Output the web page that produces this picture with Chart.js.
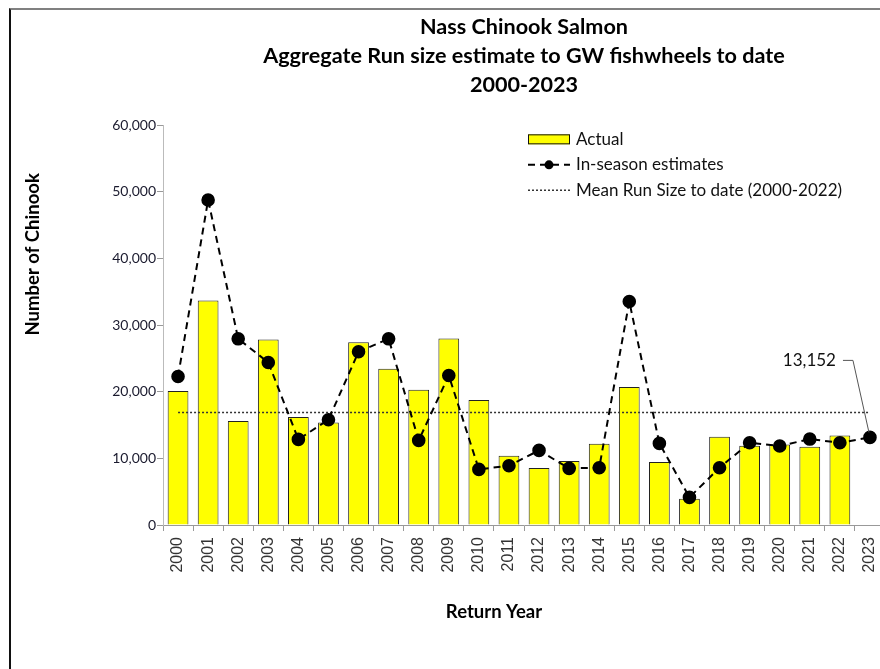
<!DOCTYPE html>
<html>
<head>
<meta charset="utf-8">
<script src="https://cdn.jsdelivr.net/npm/chart.js@4/dist/chart.umd.min.js"></script>
<style>
  html, body { margin: 0; padding: 0; background: #fff; overflow: hidden; }
  #frame {
    position: absolute; left: 9px; top: 8px; width: 900px; height: 680px;
    border-left: 2px solid #111; border-top: 2px solid #808080;
  }
  #wrap { position: absolute; left: 0; top: 1px; width: 890px; height: 660px; }
</style>
</head>
<body>
<div id="frame"><div id="wrap"><canvas id="runChart"></canvas></div></div>
<script>
const years = ['2000','2001','2002','2003','2004','2005','2006','2007','2008','2009','2010','2011',
               '2012','2013','2014','2015','2016','2017','2018','2019','2020','2021','2022','2023'];
const actual = [20100, 33700, 15600, 27850, 16200, 15400, 27450, 23450, 20300, 28000, 18750, 10400,
                8550, 9600, 12200, 20700, 9450, 3950, 13250, 11900, 12100, 11750, 13450, null];
const inSeason = [22300, 48800, 27950, 24400, 12850, 15800, 26000, 27950, 12700, 22450, 8350, 8900,
                  11200, 8500, 8600, 33550, 12250, 4150, 8600, 12350, 11850, 12900, 12350, 13152];
const meanRun = Array(years.length).fill(16900);
const yTicks = [0, 10000, 20000, 30000, 40000, 50000, 60000];

const mainFont = "Lato, 'Liberation Sans', sans-serif";

// legend drawn inside the plot area
const innerLegend = {
  id: 'innerLegend',
  afterDraw(chart) {
    const ctx = chart.ctx;
    const a = chart.chartArea;
    const x = a.left + 365, y0 = a.top + 14, gap = 25.5;
    ctx.save();
    ctx.font = '17px ' + mainFont;
    ctx.textBaseline = 'middle';
    chart.data.datasets.forEach((ds, i) => {
      const y = y0 + i * gap;
      if (ds.type === 'bar') {
        ctx.fillStyle = ds.backgroundColor;
        ctx.fillRect(x, y - 5, 42, 10);
        ctx.strokeStyle = '#111';
        ctx.lineWidth = 1;
        ctx.strokeRect(x + 0.5, y - 4.5, 41, 9);
      } else {
        ctx.strokeStyle = ds.borderColor;
        ctx.lineWidth = ds.borderWidth;
        ctx.setLineDash(ds.borderDash);
        ctx.beginPath();
        ctx.moveTo(x, y);
        ctx.lineTo(x + 42, y);
        ctx.stroke();
        ctx.setLineDash([]);
        if (ds.pointRadius > 0) {
          ctx.fillStyle = ds.pointBackgroundColor;
          ctx.beginPath();
          ctx.arc(x + 21, y, 4.5, 0, Math.PI * 2);
          ctx.fill();
        }
      }
      ctx.fillStyle = '#111';
      ctx.fillText(ds.label, x + 48, y);
    });
    ctx.restore();
  }
};

// axis titles sit off-centre in the original, so draw them here
const axisTitles = {
  id: 'axisTitles',
  afterDraw(chart) {
    const ctx = chart.ctx;
    const a = chart.chartArea;
    ctx.save();
    ctx.font = 'bold 18.5px ' + mainFont;
    ctx.fillStyle = '#000';
    ctx.textAlign = 'center';
    ctx.textBaseline = 'middle';
    ctx.fillText('Return Year', a.left + 331, a.bottom + 87);
    ctx.translate(22, a.top + 129);
    ctx.rotate(-Math.PI / 2);
    ctx.fillText('Number of Chinook', 0, 0);
    ctx.restore();
  }
};

// label for the latest in-season value with a leader line
const lastLabel = {
  id: 'lastLabel',
  afterDraw(chart) {
    const meta = chart.getDatasetMeta(1);
    const idx = inSeason.length - 1;
    const pt = meta.data[idx];
    if (!pt) return;
    const ctx = chart.ctx;
    const ty = pt.y - 77;
    ctx.save();
    ctx.strokeStyle = '#555';
    ctx.lineWidth = 1;
    ctx.beginPath();
    ctx.moveTo(pt.x - 27, ty);
    ctx.lineTo(pt.x - 17, ty);
    ctx.lineTo(pt.x - 1, pt.y - 5);
    ctx.stroke();
    ctx.font = '17px ' + mainFont;
    ctx.fillStyle = '#111';
    ctx.textAlign = 'right';
    ctx.textBaseline = 'middle';
    ctx.fillText(inSeason[idx].toLocaleString('en-US'), pt.x - 34, ty);
    ctx.restore();
  }
};

const ctxRun = document.getElementById('runChart').getContext('2d');
const runChart = new Chart(ctxRun, {
  type: 'bar',
  data: {
    labels: years,
    datasets: [{
      type: 'bar',
      label: 'Actual',
      data: actual,
      backgroundColor: '#FFFF00',
      borderColor: '#222',
      borderWidth: 1,
      barPercentage: 0.69,
      categoryPercentage: 1,
      order: 3
    }, {
      type: 'line',
      label: 'In-season estimates',
      data: inSeason,
      borderColor: '#000',
      borderWidth: 2,
      borderDash: [7, 5],
      pointRadius: 5.8,
      pointBackgroundColor: '#000',
      pointBorderColor: '#000',
      tension: 0,
      order: 1
    }, {
      type: 'line',
      label: 'Mean Run Size to date (2000-2022)',
      data: meanRun,
      borderColor: '#333',
      borderWidth: 1.5,
      borderDash: [2, 2],
      pointRadius: 0,
      order: 2
    }]
  },
  options: {
    responsive: true,
    maintainAspectRatio: false,
    animation: false,
    layout: { padding: { left: 0, right: 16, top: 0, bottom: 0 } },
    plugins: {
      legend: { display: false },
      tooltip: { enabled: false },
      title: {
        display: true,
        fullSize: false,
        text: ['Nass Chinook Salmon', 'Aggregate Run size estimate to GW fishwheels to date', '2000-2023'],
        font: { family: mainFont, size: 21.6, weight: 'bold', lineHeight: 1.34 },
        color: '#000',
        padding: { top: 1.5, bottom: 26 }
      }
    },
    scales: {
      x: {
        afterFit(s) { s.height = 146; },
        grid: { display: true, drawOnChartArea: false, color: '#999', tickLength: 6, offset: true },
        border: { color: '#999' },
        ticks: {
          minRotation: 90, maxRotation: 90, autoSkip: false, padding: 6,
          color: '#333', font: { family: "'Liberation Sans', Arial, sans-serif", size: 16 }
        }
      },
      y: {
        min: 0, max: 60000,
        afterFit(s) { s.width = 152; },
        afterBuildTicks(s) { s.ticks = yTicks.map(v => ({ value: v })); },
        grid: { display: true, drawOnChartArea: false, color: '#999', tickLength: 6 },
        border: { color: '#bbb' },
        ticks: {
          color: '#1a1a2e', padding: 1,
          font: { family: mainFont, size: 14 },
          callback: v => v.toLocaleString('en-US')
        }
      }
    }
  },
  plugins: [innerLegend, axisTitles, lastLabel]
});
</script>
</body>
</html>
